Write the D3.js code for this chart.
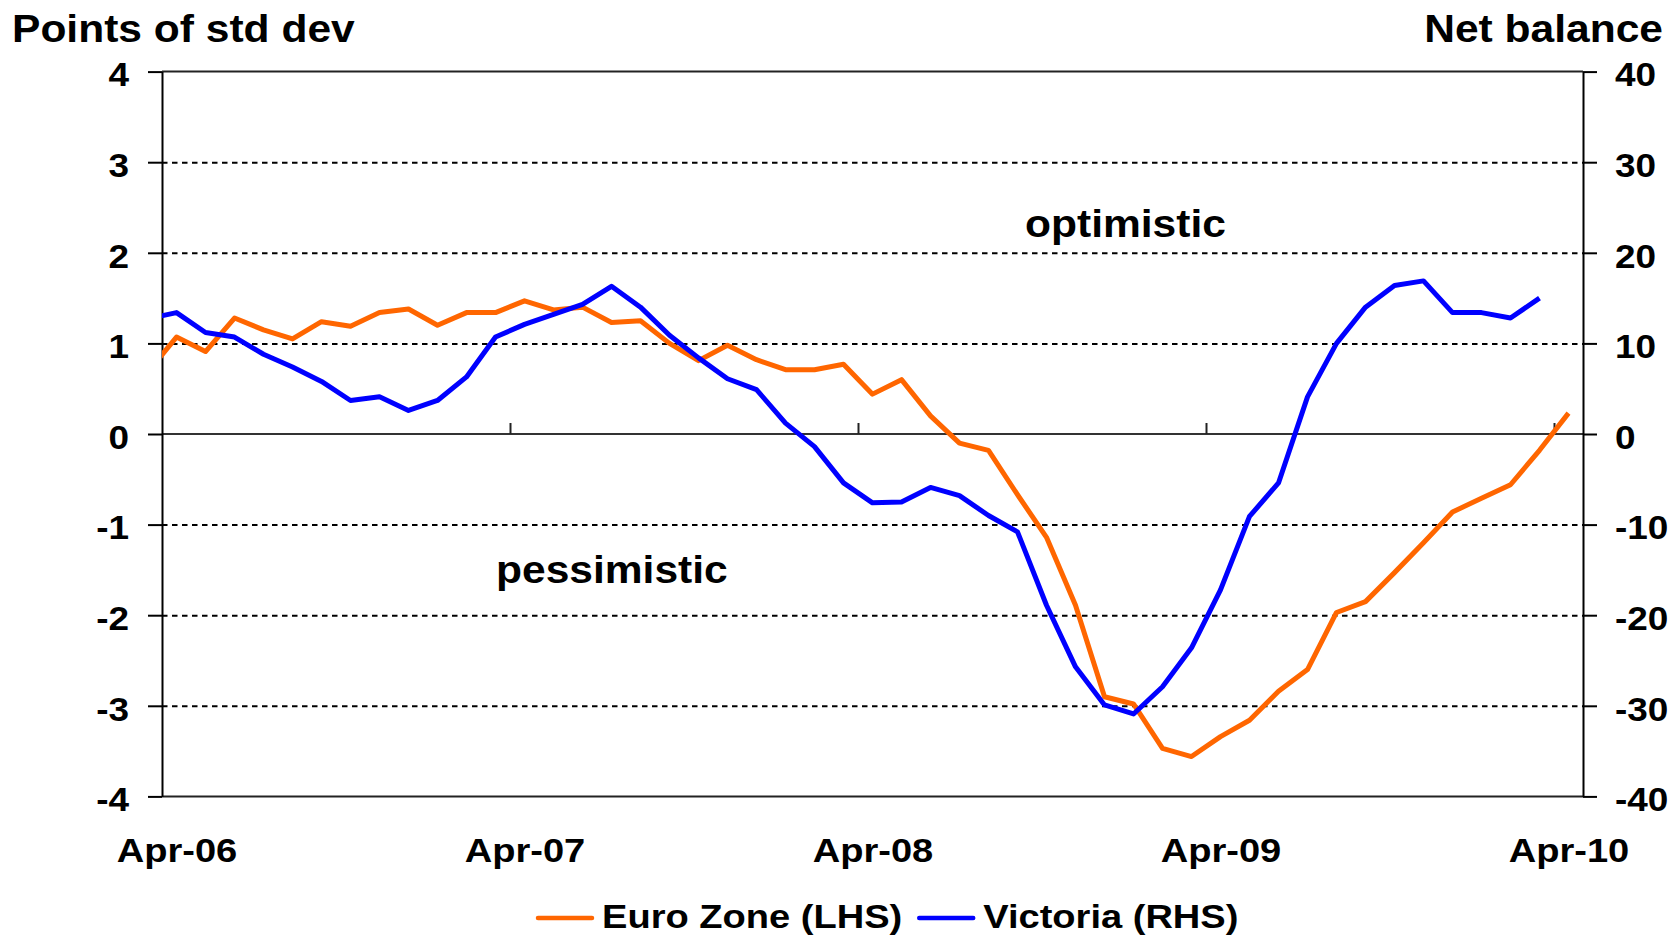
<!DOCTYPE html>
<html>
<head>
<meta charset="utf-8">
<script src="https://cdn.jsdelivr.net/npm/d3@7"></script>
<style>
  body { margin: 0; background: #fff; }
  text { font-family: "Liberation Sans", Arial, sans-serif; font-weight: bold; fill: #000; }
</style>
</head>
<body>
<div id="chart"></div>
<script>
// months shown on the category axis (first one sits just left of the plot)
const months = ["Mar-06","Apr-06","May-06","Jun-06","Jul-06","Aug-06","Sep-06","Oct-06","Nov-06","Dec-06",
  "Jan-07","Feb-07","Mar-07","Apr-07","May-07","Jun-07","Jul-07","Aug-07","Sep-07","Oct-07","Nov-07","Dec-07",
  "Jan-08","Feb-08","Mar-08","Apr-08","May-08","Jun-08","Jul-08","Aug-08","Sep-08","Oct-08","Nov-08","Dec-08",
  "Jan-09","Feb-09","Mar-09","Apr-09","May-09","Jun-09","Jul-09","Aug-09","Sep-09","Oct-09","Nov-09","Dec-09",
  "Jan-10","Feb-10","Mar-10","Apr-10"];

// Euro Zone, points of std dev (LHS)
const euroZone = [0.68, 1.07, 0.91, 1.28, 1.15, 1.05, 1.24, 1.19, 1.34, 1.38, 1.20, 1.34, 1.34, 1.47, 1.37, 1.40,
  1.23, 1.25, 1.00, 0.81, 0.98, 0.82, 0.71, 0.71, 0.77, 0.44, 0.60, 0.20, -0.10, -0.18, -0.67, -1.14, -1.89,
  -2.90, -2.98, -3.47, -3.56, -3.34, -3.16, -2.84, -2.60, -1.97, -1.85, -1.53, -1.20, -0.86, -0.71, -0.56, -0.18, 0.23];

// Victoria, net balance (RHS)
const victoria = [12.7, 13.4, 11.2, 10.7, 8.8, 7.4, 5.8, 3.7, 4.1, 2.6, 3.7, 6.3, 10.7, 12.1, 13.2, 14.3, 16.3,
  14.0, 10.9, 8.4, 6.1, 4.9, 1.2, -1.4, -5.4, -7.6, -7.5, -5.9, -6.8, -9.0, -10.8, -18.9, -25.7, -29.9, -30.9,
  -27.9, -23.6, -17.2, -9.1, -5.4, 4.1, 10.0, 14.0, 16.4, 16.9, 13.4, 13.4, 12.8, 15.0, null];

const xLabels = ["Apr-06", "Apr-07", "Apr-08", "Apr-09", "Apr-10"];
const yearTicks = ["Apr-07", "Apr-08", "Apr-09", "Apr-10"];
const leftTicks = [-4, -3, -2, -1, 0, 1, 2, 3, 4];
const rightTicks = [-40, -30, -20, -10, 0, 10, 20, 30, 40];
const series = [
  { name: "Euro Zone (LHS)", values: euroZone, axis: "left", color: "#ff6600" },
  { name: "Victoria (RHS)", values: victoria, axis: "right", color: "#0000ff" }
];

const W = 1672, H = 937;
const plotL = 162, plotR = 1583, plotT = 71.6, plotB = 796.4;
const SX = 1.12; // glyphs in the picture are a bit wide

const step = (plotR - plotL) / 49;
const x = d3.scalePoint().domain(months).range([plotL - step / 2, plotR - step / 2]);
const yL = d3.scaleLinear().domain([-4, 4]).range([plotB, plotT]);
const yR = d3.scaleLinear().domain([-40, 40]).range([plotB, plotT]);

const svg = d3.select("#chart").append("svg")
  .attr("width", W).attr("height", H);

function stretch(sel) {
  // move the x offset into a transform so the horizontal scale doesn't move the text
  sel.each(function () {
    const t = d3.select(this);
    const tx = +t.attr("x") || 0;
    t.attr("x", 0).attr("transform", `translate(${tx},0) scale(${SX},1)`);
  });
}

svg.append("clipPath").attr("id", "plot")
  .append("rect").attr("x", plotL).attr("y", 0).attr("width", plotR - plotL).attr("height", H);

// gridlines
svg.append("g")
  .attr("transform", `translate(${plotL},0)`)
  .call(d3.axisLeft(yL).tickValues(leftTicks.filter(d => d != 0 && Math.abs(d) != 4))
    .tickSize(-(plotR - plotL)).tickFormat(""))
  .call(g => g.select(".domain").remove())
  .selectAll("line").attr("stroke", "#000").attr("stroke-width", 2).attr("stroke-dasharray", "5.5,4.5");

[4, -4].forEach(v => {
  svg.append("line").attr("x1", plotL).attr("x2", plotR).attr("y1", yL(v)).attr("y2", yL(v))
    .attr("stroke", "#222").attr("stroke-width", 2);
});

// zero line with year tick marks
svg.append("line").attr("x1", plotL).attr("x2", plotR).attr("y1", yL(0)).attr("y2", yL(0))
  .attr("stroke", "#333").attr("stroke-width", 2);
svg.append("g")
  .attr("transform", `translate(${-step / 2},${yL(0)})`)
  .call(d3.axisTop(x).tickValues(yearTicks).tickSize(11).tickFormat(""))
  .call(g => g.select(".domain").remove())
  .selectAll("line").attr("stroke", "#222").attr("stroke-width", 2);

// left axis
const gl = svg.append("g")
  .attr("transform", `translate(${plotL},0)`)
  .call(d3.axisLeft(yL).tickValues(leftTicks).tickFormat(d => String(d))
    .tickSize(14).tickSizeOuter(0).tickPadding(19));
gl.select(".domain").attr("stroke", "#000").attr("stroke-width", 2);
gl.selectAll(".tick line").attr("stroke", "#000").attr("stroke-width", 2);
gl.selectAll("text").attr("font-size", 33).attr("dy", "0.43em")
  .style("font-family", "'Liberation Sans', Arial, sans-serif").style("font-weight", "bold").call(stretch);

// right axis
const gr = svg.append("g")
  .attr("transform", `translate(${plotR},0)`)
  .call(d3.axisRight(yR).tickValues(rightTicks).tickFormat(d => String(d))
    .tickSize(14).tickSizeOuter(0).tickPadding(18));
gr.select(".domain").attr("stroke", "#000").attr("stroke-width", 2);
gr.selectAll(".tick line").attr("stroke", "#000").attr("stroke-width", 2);
gr.selectAll("text").attr("font-size", 33).attr("dy", "0.43em")
  .style("font-family", "'Liberation Sans', Arial, sans-serif").style("font-weight", "bold").call(stretch);

// month labels under the plot
const gx = svg.append("g")
  .attr("transform", `translate(0,${plotB})`)
  .call(d3.axisBottom(x).tickValues(xLabels).tickSize(0).tickPadding(41.5));
gx.select(".domain").remove();
gx.selectAll("text").attr("font-size", 34)
  .style("font-family", "'Liberation Sans', Arial, sans-serif").style("font-weight", "bold").call(stretch);

// lines
series.forEach(s => {
  const y = s.axis == "left" ? yL : yR;
  const line = d3.line()
    .defined(d => d[1] != null)
    .x(d => x(d[0]))
    .y(d => y(d[1]));
  svg.append("path")
    .datum(months.map((m, i) => [m, s.values[i]]))
    .attr("clip-path", "url(#plot)")
    .attr("fill", "none")
    .attr("stroke", s.color)
    .attr("stroke-width", 5)
    .attr("stroke-linejoin", "round")
    .attr("d", line);
});

// titles and annotations
function label(txt, px, py, size, anchor) {
  return svg.append("text").text(txt)
    .attr("font-size", size)
    .attr("text-anchor", anchor || "start")
    .attr("transform", `translate(${px},${py}) scale(${SX},1)`);
}
label("Points of std dev", 12, 42, 38);
label("Net balance", 1663, 42, 38, "end");
label("optimistic", 1025, 237, 38);
label("pessimistic", 496, 583, 38);

// legend
let lx = 538;
const ly = 918;
series.forEach(s => {
  svg.append("line").attr("x1", lx).attr("x2", lx + 54).attr("y1", ly).attr("y2", ly)
    .attr("stroke", s.color).attr("stroke-width", 4.5).attr("stroke-linecap", "round");
  const t = label(s.name, lx + 64, 928, 34);
  lx += 64 + t.node().getComputedTextLength() * SX + 17;
});
</script>
</body>
</html>
